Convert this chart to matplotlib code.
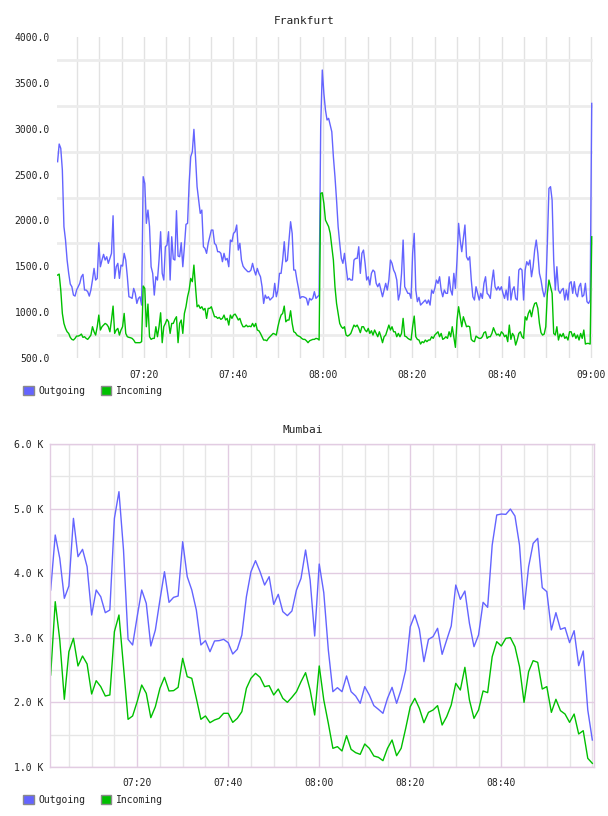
import matplotlib
matplotlib.use("Agg")
import matplotlib.dates as mdates
import matplotlib.pyplot as plt
import numpy as np
import pandas as pd
from matplotlib.patches import Patch
from matplotlib.ticker import FixedLocator, FuncFormatter, MultipleLocator


DAY = "2014-01-01 "

# Frankfurt: samples evenly spread between first and last timestamp
frankfurt_start = DAY + "07:00:40"
frankfurt_end = DAY + "09:00:10"
frankfurt_outgoing = [
    2640, 2833, 2786, 2550, 1932, 1786, 1568, 1423, 1306, 1277,
    1186, 1175, 1241, 1277, 1314, 1386, 1412, 1241, 1241, 1223,
    1175, 1241, 1350, 1477, 1350, 1368, 1757, 1495, 1568, 1630,
    1568, 1604, 1532, 1586, 1641, 2051, 1368, 1495, 1532, 1368,
    1513, 1502, 1641, 1568, 1386, 1168, 1161, 1150, 1259, 1205,
    1095, 1150, 1168, 1077, 2477, 2404, 1968, 2113, 1932,
    1495, 1423, 1186, 1386, 1350, 1568, 1877, 1423, 1350, 1713,
    1731, 1877, 1350, 1822, 1579, 1568, 2106, 1612, 1604, 1757,
    1495, 1713, 1957, 1968, 2404, 2695, 2749,
    2993, 2695, 2368, 2222, 2077, 2113, 1713, 1695, 1641, 1750,
    1822, 1895, 1895, 1750, 1731, 1659, 1659, 1641, 1550, 1641,
    1568, 1586, 1495, 1786, 1768, 1859, 1877, 1950, 1677, 1750,
    1568, 1502, 1477, 1459, 1441, 1441, 1459, 1532, 1459, 1405,
    1477, 1423, 1386, 1277, 1095, 1186, 1150, 1168, 1132, 1150,
    1168, 1314, 1168, 1241, 1423, 1423, 1568, 1768, 1550, 1568,
    1786, 1986, 1859, 1459, 1459, 1350, 1259, 1150, 1168, 1168,
    1161, 1150, 1077, 1150, 1132, 1150, 1223, 1150, 1168, 1186,
    3022,
    3640, 3385, 3204, 3095, 3113, 3040, 2967, 2695, 2477, 2222,
    1932, 1750, 1586, 1532, 1641, 1495, 1350, 1368, 1350, 1350,
    1568, 1586, 1586, 1713, 1423, 1641, 1677, 1532, 1350, 1386,
    1296, 1423, 1459, 1441, 1314, 1277, 1314, 1241, 1168, 1241,
    1314, 1241, 1350, 1568, 1532, 1459, 1423, 1350, 1132, 1205,
    1423, 1786, 1277, 1241, 1205, 1205, 1150, 1641, 1859, 1241,
    1114, 1161, 1077, 1095, 1114, 1132, 1095, 1132, 1077, 1241,
    1205, 1259, 1350, 1314, 1386, 1241, 1168, 1241, 1205, 1205,
    1386, 1241, 1186, 1423, 1259, 1568,
    1968, 1786, 1659, 1804, 1950, 1604, 1568, 1604, 1350, 1168,
    1132, 1277, 1205, 1132, 1205, 1150, 1314, 1386, 1205, 1186,
    1150, 1332, 1459, 1277, 1241, 1277, 1241, 1277, 1205, 1150,
    1241, 1132, 1386, 1132, 1241, 1277, 1150, 1132, 1459, 1477,
    1459, 1132, 1459, 1550, 1513, 1568, 1386, 1495, 1677, 1786,
    1641, 1423, 1350, 1241, 1168, 1241, 1750, 2349, 2368, 2222,
    1568, 1241, 1495, 1241, 1205, 1241, 1259, 1132, 1241, 1132,
    1314, 1332, 1205, 1332, 1205, 1168, 1277, 1314, 1168, 1186,
    1314, 1114, 1095, 1132, 3276,
]
frankfurt_incoming = [
    1404, 1415, 1241, 986, 877, 823, 786, 768, 725, 703,
    696, 714, 739, 739, 746, 761, 725, 732, 714, 703,
    725, 750, 841, 786, 750, 841, 968, 805, 841, 859,
    877, 866, 841, 786, 914, 1066, 768, 805, 823, 750,
    805, 841, 986, 768, 732, 725, 721, 714, 696, 667,
    667, 667, 667, 678, 1285, 1259, 841, 1088, 732,
    703, 714, 714, 841, 732, 841, 993, 667, 841, 877,
    921, 895, 768, 877, 877, 921, 950, 667, 877, 914,
    768, 986, 1059, 1168, 1241, 1368, 1332,
    1513, 1277, 1059, 1077, 1041, 1059, 1023, 1041, 932, 1041,
    1041, 1059, 1004, 950, 950, 932, 943, 921, 932, 968,
    914, 932, 859, 968, 932, 968, 979, 950, 914, 932,
    877, 841, 841, 859, 841, 848, 841, 877, 841, 877,
    805, 797, 768, 732, 696, 696, 688, 714, 732, 750,
    768, 761, 750, 841, 914, 968, 986, 1066, 895, 914,
    914, 1015, 877, 786, 776, 750, 739, 732, 714, 703,
    703, 688, 667, 688, 696, 703, 703, 714, 710, 696,
    2295,
    2302, 2186, 2004, 1968, 1932, 1859, 1713, 1568, 1277, 1095,
    986, 877, 841, 823, 841, 750, 739, 750, 768, 812,
    859, 841, 859, 823, 776, 841, 841, 805, 786, 823,
    768, 797, 750, 805, 768, 732, 786, 732, 667, 732,
    750, 805, 859, 805, 841, 786, 786, 732, 768, 732,
    768, 932, 739, 732, 714, 703, 696, 841, 957, 732,
    703, 696, 652, 678, 667, 696, 678, 696, 696, 732,
    714, 750, 768, 786, 732, 768, 703, 714, 732, 714,
    786, 732, 841, 732, 616, 914,
    1059, 950, 841, 950, 895, 841, 848, 841, 703, 685,
    678, 739, 725, 714, 714, 732, 776, 786, 714, 732,
    732, 768, 830, 786, 750, 761, 739, 786, 768, 732,
    750, 678, 859, 703, 768, 739, 641, 696, 768, 786,
    732, 714, 950, 914, 986, 1023, 950, 1041, 1095, 1103,
    1041, 877, 776, 750, 761, 841, 1205, 1350, 1277, 1205,
    768, 750, 841, 696, 761, 732, 768, 714, 732, 696,
    786, 786, 732, 768, 714, 750, 696, 768, 714, 805,
    652, 659, 659, 652, 1822,
]
frankfurt_ticks = ["07:20", "07:40", "08:00", "08:20", "08:40", "09:00"]

# Mumbai: one sample per minute
mumbai_start = DAY + "07:01"
mumbai_outgoing = [
    3740, 4591, 4230, 3611, 3802, 4849, 4256, 4369, 4101, 3353,
    3740, 3636, 3389, 3430, 4849, 5262, 4359, 2976, 2889, 3327,
    3740, 3533, 2873, 3121, 3585, 4023, 3549, 3626, 3647, 4488,
    3946, 3740, 3430, 2889, 2956, 2785, 2951, 2956, 2976, 2925,
    2749, 2822, 3043, 3636, 4023, 4194, 4023, 3817, 3946, 3518,
    3673, 3405, 3343, 3415, 3740, 3920, 4359, 3894, 3028, 4142,
    3698, 2811, 2166, 2228, 2166, 2409, 2166, 2099, 1986, 2244,
    2115, 1950, 1893, 1831, 2063, 2233, 1986, 2202, 2502, 3172,
    3353, 3131, 2631, 2976, 3018, 3147, 2744, 2966, 3183, 3817,
    3595, 3724, 3224, 2863, 3043, 3549, 3472, 4436, 4901, 4916,
    4911, 4993, 4885, 4436, 3441, 4101, 4462, 4539, 3776, 3714,
    3121, 3389, 3131, 3157, 2925, 3110, 2569, 2796, 1882, 1418,
]
mumbai_incoming = [
    2424, 3559, 2966, 2048, 2785, 2992, 2564, 2718, 2595, 2130,
    2336, 2244, 2099, 2115, 3095, 3353, 2553, 1738, 1790, 2011,
    2269, 2140, 1764, 1934, 2218, 2388, 2177, 2182, 2233, 2682,
    2398, 2373, 2063, 1738, 1790, 1686, 1728, 1753, 1831, 1831,
    1691, 1753, 1857, 2218, 2373, 2450, 2388, 2244, 2259, 2115,
    2207, 2063, 2001, 2079, 2166, 2321, 2460, 2192, 1805, 2564,
    2037, 1676, 1289, 1315, 1248, 1485, 1273, 1222, 1196, 1356,
    1289, 1170, 1150, 1098, 1289, 1418, 1175, 1289, 1599, 1934,
    2063, 1908, 1686, 1846, 1882, 1950, 1650, 1779, 1960, 2295,
    2192, 2543, 2037, 1753, 1882, 2177, 2151, 2708, 2940, 2873,
    2992, 3002, 2863, 2553, 2001, 2476, 2646, 2620, 2207, 2244,
    1846, 2048, 1872, 1820, 1691, 1820, 1511, 1562, 1134, 1057,
]
mumbai_ticks = ["07:20", "07:40", "08:00", "08:20", "08:40"]

series_names = ["Outgoing", "Incoming"]
series_colors = ["#6464ff", "#00c000"]

FONT = "DejaVu Sans Mono"
TEXT_COLOR = "#222222"


def tick_positions(labels):
    return [mdates.date2num(pd.Timestamp(DAY + label)) for label in labels]


def add_legend(ax, top):
    handles = [
        Patch(facecolor=color, edgecolor="#8a8a8a", linewidth=1.0, label=name)
        for name, color in zip(series_names, series_colors)
    ]
    ax.legend(
        handles=handles,
        loc="upper left",
        bbox_to_anchor=(23 / 608, 1 - top / 816),
        bbox_transform=ax.figure.transFigure,
        ncol=2,
        frameon=False,
        handlelength=1.1,
        handleheight=1.1,
        handletextpad=0.45,
        columnspacing=1.6,
        borderpad=0,
        borderaxespad=0,
        prop={"family": FONT, "size": 7},
        labelcolor=TEXT_COLOR,
    )


fig = plt.figure(figsize=(6.08, 8.16), dpi=100)

# ---- Frankfurt ----
ax1 = fig.add_axes([57 / 608, 1 - 358 / 816, 536 / 608, 321 / 816])
top_times = pd.date_range(frankfurt_start, frankfurt_end, periods=len(frankfurt_outgoing))
ax1.plot(top_times, frankfurt_outgoing, color=series_colors[0], lw=1.0)
ax1.plot(top_times, frankfurt_incoming, color=series_colors[1], lw=1.0)

ax1.set_xlim(pd.Timestamp(DAY + "07:00:32"), pd.Timestamp(DAY + "09:00:27"))
ax1.set_ylim(500, 4000)
ax1.yaxis.set_major_locator(MultipleLocator(500))
ax1.yaxis.set_minor_locator(FixedLocator(np.arange(750, 4000, 500)))
ax1.yaxis.set_major_formatter(FuncFormatter(lambda v, p: f"{v:.1f}"))
ax1.xaxis.set_major_locator(FixedLocator(tick_positions(frankfurt_ticks)))
ax1.xaxis.set_minor_locator(mdates.MinuteLocator(byminute=range(0, 60, 5)))
ax1.xaxis.set_major_formatter(mdates.DateFormatter("%H:%M"))
ax1.set_axisbelow(True)
ax1.grid(which="minor", axis="y", color="#ececec", lw=2)
ax1.grid(which="both", axis="x", color="#e2e2e2", lw=1)
for spine in ax1.spines.values():
    spine.set_visible(False)
ax1.tick_params(axis="y", which="both", length=0, pad=5)
ax1.tick_params(axis="x", which="both", length=0, pad=9)
ax1.set_title("Frankfurt", fontsize=8, family=FONT, color=TEXT_COLOR, pad=9,
              x=(304 - 57) / 536)
add_legend(ax1, 386)

# ---- Mumbai ----
ax2 = fig.add_axes([50.3 / 608, 1 - 767 / 816, 543.7 / 608, 323 / 816])
bottom_times = pd.date_range(mumbai_start, periods=len(mumbai_outgoing), freq="min")
ax2.plot(bottom_times, mumbai_outgoing, color=series_colors[0], lw=1.0)
ax2.plot(bottom_times, mumbai_incoming, color=series_colors[1], lw=1.0)

ax2.set_xlim(pd.Timestamp(DAY + "07:00:55"), pd.Timestamp(DAY + "09:00:22"))
ax2.set_ylim(1000, 6000)
ax2.yaxis.set_major_locator(MultipleLocator(1000))
ax2.yaxis.set_minor_locator(MultipleLocator(500))
ax2.yaxis.set_major_formatter(FuncFormatter(lambda v, p: f"{v / 1000:.1f} K"))
ax2.xaxis.set_major_locator(FixedLocator(tick_positions(mumbai_ticks)))
ax2.xaxis.set_minor_locator(mdates.MinuteLocator(byminute=range(0, 60, 5)))
ax2.xaxis.set_major_formatter(mdates.DateFormatter("%H:%M"))
ax2.set_axisbelow(True)
ax2.grid(which="minor", color="#e6e6e6", lw=1)
ax2.grid(which="major", color="#e2cce2", lw=1)
for spine in ax2.spines.values():
    spine.set_color("#e2cce2")
    spine.set_linewidth(1.0)
ax2.tick_params(axis="y", which="both", length=0, pad=5)
ax2.tick_params(axis="x", which="both", length=0, pad=8)
ax2.set_title("Mumbai", fontsize=8, family=FONT, color=TEXT_COLOR, pad=8,
              x=(303 - 50.3) / 543.7)
add_legend(ax2, 795)

for ax in (ax1, ax2):
    for label in ax.get_xticklabels() + ax.get_yticklabels():
        label.set_family(FONT)
        label.set_fontsize(7)
        label.set_color(TEXT_COLOR)

fig.savefig("out.png", dpi=100)
plt.close(fig)
